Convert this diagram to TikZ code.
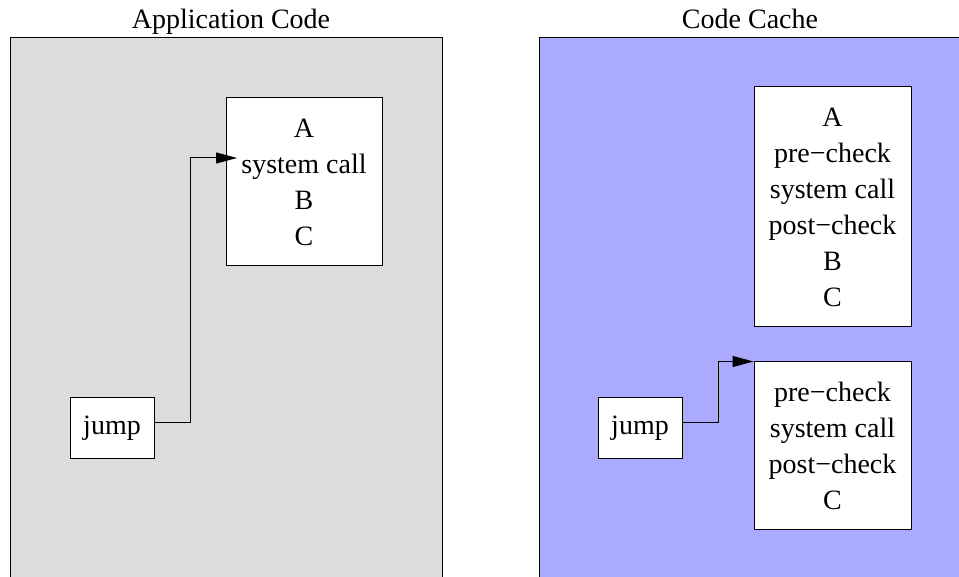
\documentclass[tikz,border=0pt]{standalone}
\usepackage{fontspec}
\setmainfont{Liberation Serif}
\newfontfamily\figfont{Liberation Serif}
\usetikzlibrary{arrows.meta}
\definecolor{panelgray}{HTML}{DCDCDC}
\definecolor{panelblue}{HTML}{AAAAFF}
\tikzset{
  txt/.style={font=\figfont\fontsize{28}{36}\selectfont},
  codebox/.style={draw=black, fill=white, line width=1pt, inner sep=0pt, align=center, txt},
  panel/.style={draw=black, line width=1pt},
  arr/.style={draw=black, line width=1pt, -{Triangle[length=21pt,width=11pt]}},
  heading/.style={txt, anchor=base, inner sep=0pt}
}
\begin{document}
\begin{tikzpicture}[x=1pt,y=-1pt]
\useasboundingbox (0,0) rectangle (959,577);
\clip (0,0) rectangle (959,577);
% panels
\draw[panel, fill=panelgray] (10,38) rectangle (442,600);
\draw[panel, fill=panelblue] (539,38) rectangle (965,600);
\node[heading] (hApp) at (231,29) {Application Code};
\node[heading] (hCache) at (750,29) {Code Cache};
% application code
\node[codebox, minimum width=156pt, minimum height=168pt] (appBox) at (304,182) {A\\system call\\B\\C};
\node[codebox, minimum width=84pt, minimum height=60pt] (jumpL) at (112,428) {jump};
\coordinate (tipL) at (237,158);
\draw[arr] ([yshift=6pt]jumpL.east) -- ++(36,0) |- (tipL);
% code cache
\node[codebox, minimum width=157pt, minimum height=240pt] (cacheTop) at (832.5,207) {A\\pre−check\\system call\\post−check\\B\\C};
\node[codebox, minimum width=157pt, minimum height=167pt] (cacheBot) at (832.5,445.5) {pre−check\\system call\\post−check\\C};
\node[codebox, minimum width=84pt, minimum height=60pt] (jumpR) at (640,428) {jump};
\draw[arr] ([yshift=6pt]jumpR.east) -- ++(36,0) |- (cacheBot.north west);
\end{tikzpicture}
\end{document}
